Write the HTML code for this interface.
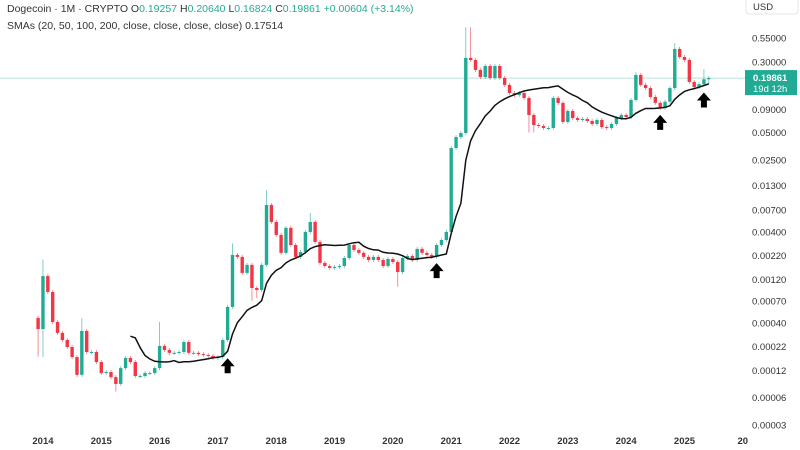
<!DOCTYPE html>
<html><head><meta charset="utf-8"><style>
html,body{margin:0;padding:0;background:#fff;}
svg{display:block;font-family:"Liberation Sans",sans-serif;}
</style></head><body>
<svg id="chart" width="800" height="450" viewBox="0 0 800 450" xmlns="http://www.w3.org/2000/svg">
<rect x="0" y="0" width="800" height="450" fill="#ffffff"/>
<text x="7" y="12" font-size="10.5" fill="#333">Dogecoin · 1M · CRYPTO <tspan fill="#333">O</tspan><tspan fill="#22ab94">0.19257</tspan> <tspan fill="#333">H</tspan><tspan fill="#22ab94">0.20640</tspan> <tspan fill="#333">L</tspan><tspan fill="#22ab94">0.16824</tspan> <tspan fill="#333">C</tspan><tspan fill="#22ab94">0.19861 +0.00604 (+3.14%)</tspan></text>
<text x="7" y="29" font-size="10.5" fill="#333">SMAs (20, 50, 100, 200, close, close, close, close)  0.17514</text>
<rect x="746" y="-2" width="52" height="16" rx="3" fill="#fff" stroke="#e6e6e6"/>
<text x="753" y="10" font-size="9.5" fill="#333">USD</text>
<g id="yaxis"></g>
<g id="xaxis"></g>
<g id="pricetag0"></g>
<g id="candles"></g>
<g id="sma"></g>
<g id="arrows"></g>
<g id="pricetag"></g>
</svg>
<script>
const closes=[3.42e-4,1.31e-3,8.75e-4,4.09e-4,3.10e-4,2.59e-4,2.17e-4,1.68e-4,1.07e-4,3.26e-4,
1.91e-4,1.91e-4,1.48e-4,1.12e-4,1.15e-4,1.01e-4,8.5e-5,1.27e-4,1.64e-4,1.48e-4,
1.04e-4,1.04e-4,1.12e-4,1.12e-4,1.27e-4,2.23e-4,2.01e-4,1.87e-4,1.87e-4,1.91e-4,
2.46e-4,1.87e-4,1.87e-4,1.81e-4,1.77e-4,1.73e-4,1.64e-4,1.68e-4,2.59e-4,5.99e-4,
2.24e-3,2.13e-3,1.42e-3,1.74e-3,9.68e-4,9.2e-4,1.74e-3,7.95e-3,5.17e-3,3.72e-3,
2.36e-3,4.45e-3,2.88e-3,2.13e-3,2.41e-3,4.01e-3,5.17e-3,3.11e-3,1.83e-3,1.69e-3,
1.61e-3,1.65e-3,1.69e-3,2.07e-3,2.88e-3,2.54e-3,2.36e-3,2.13e-3,1.97e-3,2.13e-3,
1.97e-3,1.69e-3,2.02e-3,1.87e-3,1.45e-3,2.07e-3,2.18e-3,1.97e-3,2.61e-3,2.36e-3,
2.24e-3,2.13e-3,2.88e-3,3.27e-3,4.01e-3,0.0337,0.0445,0.0493,0.331,0.314,
0.244,0.204,0.270,0.199,0.270,0.199,0.167,0.136,0.129,0.136,
0.120,0.0779,0.0604,0.0589,0.056,0.056,0.120,0.1057,0.0652,0.0862,
0.0721,0.0686,0.0704,0.0669,0.062,0.0686,0.0573,0.056,0.062,0.0721,
0.0779,0.074,0.114,0.215,0.167,0.154,0.123,0.106,0.093,0.109,
0.154,0.416,0.339,0.314,0.18,0.158,0.17,0.19257,0.19861];
const firstOpen=4.53e-4;
const highIdx=[1,25,40,47,88,89,123,131,137,138,9,56];
const highVal=[2.0e-3,4.1e-4,3.0e-3,0.0116,0.72,0.72,0.23,0.48,0.25,0.2064,4.5e-4,6.5e-3];
const lowIdx=[1,0,74,44,101,16,138,45,102];
const lowVal=[1.68e-4,1.7e-4,1.0e-3,7.0e-4,0.05,7.0e-5,0.16824,7.5e-4,0.05];
const yTicks=[0.55,0.30,0.09,0.05,0.025,0.013,0.007,0.004,0.0022,0.0012,0.0007,0.0004,0.00022,0.00012,0.00006,0.00003];
const yTickText=["0.55000","0.30000","0.09000","0.05000","0.02500","0.01300","0.00700","0.00400","0.00220","0.00120","0.00070","0.00040","0.00022","0.00012","0.00006","0.00003"];
const xYears=["2014","2015","2016","2017","2018","2019","2020","2021","2022","2023","2024","2025","20"];
const arrowIdx=[39,82,128,137];
const smaPeriod=20;
const lastPrice=0.19861;

const NS="http://www.w3.org/2000/svg";
function X(i){return 38.1+4.86*i;}
function Y(p){return 425-90.8*Math.log10(p/3e-5);}
function mk(t,a,parent){const e=document.createElementNS(NS,t);for(const k in a)e.setAttribute(k,a[k]);parent.appendChild(e);return e;}
const G=id=>document.getElementById(id);

yTicks.forEach((v,k)=>{
  const t=mk('text',{x:752,y:Y(v)+3.5,'font-size':9.5,fill:'#333'},G('yaxis'));
  
  
  t.textContent=yTickText[k];
});
xYears.forEach((s,k)=>{
  const t=mk('text',{x:X(1+12*k),y:444,'font-size':9.5,fill:'#333','text-anchor':'middle','font-weight':'bold'},G('xaxis'));
  
  
  t.textContent=s;
});
const pl=mk('line',{x1:0,x2:745,y1:Y(lastPrice),y2:Y(lastPrice),stroke:'#b8e3dc','stroke-width':1},G('pricetag0'));



closes.forEach((c,i)=>{
  const o=i===0?firstOpen:closes[i-1];
  const up=c>=o;
  const col=up?'#22ab94':'#f23645';
  const yo=Y(o),yc=Y(c);
  let top=Math.min(yo,yc),bot=Math.max(yo,yc);
  let hy=top-2,ly=bot+2;
  const hk=highIdx.indexOf(i); if(hk>=0)hy=Math.min(hy,Y(highVal[hk]));
  const lk=lowIdx.indexOf(i); if(lk>=0)ly=Math.max(ly,Y(lowVal[lk]));
  const g=mk('g',{},G('candles'));
  
  
  mk('line',{x1:X(i),x2:X(i),y1:hy,y2:ly,stroke:col,'stroke-width':0.8,opacity:0.7},g);
  mk('rect',{x:X(i)-1.7,y:top,width:3.4,height:Math.max(1,bot-top),fill:col},g);
});
const sma=[];
let pts=[];
for(let i=0;i<closes.length;i++){
  if(i<smaPeriod-1){sma.push(null);continue;}
  let s=0;for(let j=i-smaPeriod+1;j<=i;j++)s+=closes[j];
  sma.push(s/smaPeriod);
  pts.push(X(i).toFixed(1)+','+Y(s/smaPeriod).toFixed(1));
}
const sp=mk('polyline',{points:pts.join(' '),fill:'none',stroke:'#111','stroke-width':1.5},G('sma'));



arrowIdx.forEach(i=>{
  const ax=X(i),ay=Y(sma[i])+7;
  const a=mk('polygon',{points:`${ax},${ay} ${ax+7},${ay+8} ${ax+3},${ay+8} ${ax+3},${ay+15} ${ax-3},${ay+15} ${ax-3},${ay+8} ${ax-7},${ay+8}`,fill:'#000'},G('arrows'));
  
  
});
const ty=Y(lastPrice);
const tb=mk('rect',{x:745,y:ty-8,width:52,height:25,fill:'#22ab94'},G('pricetag'));


const t1=mk('text',{x:753,y:ty+3,'font-size':9.5,fill:'#fff','font-weight':'bold'},G('pricetag'));


t1.textContent=lastPrice.toFixed(5);
const t2=mk('text',{x:753,y:ty+14,'font-size':9.5,fill:'#fff'},G('pricetag'));


t2.textContent='19d 12h';
</script>
</body></html>
